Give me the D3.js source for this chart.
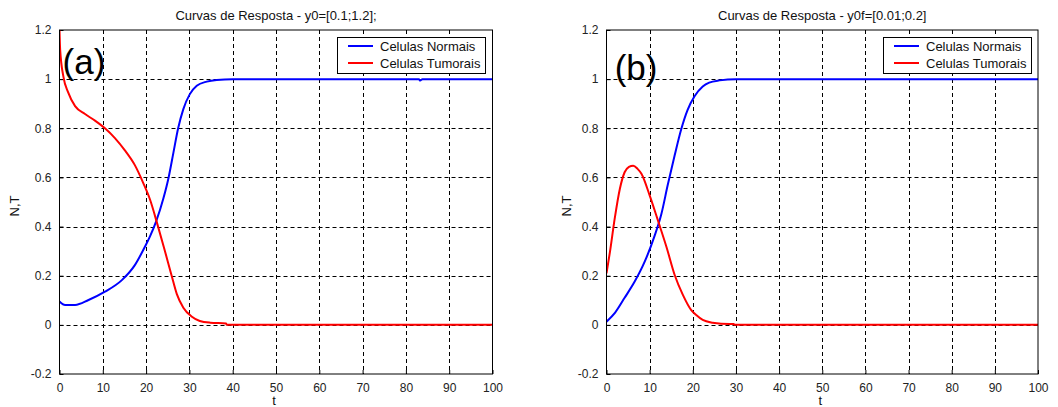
<!DOCTYPE html>
<html>
<head>
<meta charset="utf-8">
<script src="https://cdn.jsdelivr.net/npm/d3@7"></script>
<style>
html,body{margin:0;padding:0;background:#fff;}
svg{display:block;font-family:"Liberation Sans",Arial,Helvetica,sans-serif;}
</style>
</head>
<body>
<svg id="chart" width="1058" height="407"></svg>
<script>
// ---- data ----
const xTicks = [0,10,20,30,40,50,60,70,80,90,100];
const yTicks = [-0.2,0,0.2,0.4,0.6,0.8,1,1.2];
const yTickLabels = ["-0.2","0","0.2","0.4","0.6","0.8","1","1.2"];
const seriesNames = ["Celulas Normais","Celulas Tumorais"];
const seriesColors = ["#0000ff","#ff0000"];
const titles = ["Curvas de Resposta - y0=[0.1;1.2];","Curvas de Resposta - y0f=[0.01;0.2]"];
const panelLabels = ["(a)","(b)"];

const tNormalA = [0,1.3,3.6,6.7,10.5,14.4,17.4,19.7,20.9,22.3,24.0,25.2,26.3,27.4,28.6,30.1,31.7,34.0,36.3,40,83,83.3,83.8,100];
const normalA  = [0.095,0.081,0.081,0.101,0.135,0.182,0.243,0.317,0.36,0.42,0.515,0.6,0.7,0.8,0.878,0.939,0.973,0.990,0.997,1.0,1.0,0.994,1.0,1.0];
const tTumorA  = [0,0.15,0.9,2.0,3.6,5.9,8.2,10.5,12.8,15.1,17.4,19.4,20.9,22.6,24.2,25.9,27.1,28.6,30.5,32.4,34.8,38.5,38.6,100];
const tumorA   = [1.2,1.12,1.01,0.946,0.89,0.858,0.831,0.8,0.76,0.71,0.65,0.575,0.51,0.41,0.31,0.2,0.125,0.07,0.034,0.016,0.009,0.006,0,0];

const tNormalB = [0,2,4.2,6.5,8.8,11.1,12.7,14.2,15.8,17.3,18.8,20.4,22.3,23.8,26.2,30,100];
const normalB  = [0.013,0.05,0.11,0.175,0.255,0.36,0.45,0.57,0.69,0.795,0.875,0.93,0.97,0.986,0.995,1.0,1.0];
const tTumorB  = [0,0.8,1.9,3.1,4.2,5.2,6.2,7.2,8.1,10.0,11.9,13.9,15.8,17.7,19.6,20.8,22.3,24.6,28.5,29.5,29.6,100];
const tumorB   = [0.21,0.297,0.432,0.554,0.621,0.643,0.648,0.635,0.615,0.527,0.426,0.317,0.203,0.122,0.061,0.04,0.02,0.009,0.003,0.003,0,0];

// ---- layout ----
const panels = [
  {left:59.5, right:492.5, top:30, bottom:374, label:{t:0.7,y:1.02}, yLabelX:15,
   legend:{x:337,y:37.5,w:148,h:36},
   series:[[tNormalA,normalA],[tTumorA,tumorA]]},
  {left:606.5, right:1038, top:30, bottom:374, label:{t:1.9,y:0.995}, yLabelX:567,
   legend:{x:883,y:37.5,w:148,h:36},
   series:[[tNormalB,normalB],[tTumorB,tumorB]]}
];

const svg = d3.select("#chart");

panels.forEach((p,i)=>{
  const x = d3.scaleLinear().domain([0,100]).range([p.left,p.right]);
  const y = d3.scaleLinear().domain([-0.2,1.2]).range([p.bottom,p.top]);
  const g = svg.append("g");

  const clipId = "clip"+i;
  g.append("clipPath").attr("id",clipId).append("rect")
    .attr("x",p.left).attr("y",p.top-1).attr("width",p.right-p.left+1).attr("height",p.bottom-p.top+2);

  // grid
  g.append("g").selectAll("line").data(xTicks.slice(1,-1)).join("line")
    .attr("x1",d=>Math.round(x(d))+0.5).attr("x2",d=>Math.round(x(d))+0.5)
    .attr("y1",p.top).attr("y2",p.bottom)
    .attr("stroke","#000").attr("stroke-width",1).attr("stroke-dasharray","4,3");
  g.append("g").selectAll("line").data(yTicks.slice(1,-1)).join("line")
    .attr("y1",d=>Math.round(y(d))+0.5).attr("y2",d=>Math.round(y(d))+0.5)
    .attr("x1",p.left).attr("x2",p.right)
    .attr("stroke","#000").attr("stroke-width",1).attr("stroke-dasharray","4,3");

  // axes (ticks inward)
  const xAxis = d3.axisBottom(x).tickValues(xTicks).tickSize(-4).tickPadding(9).tickFormat(d3.format("d"));
  const yAxis = d3.axisLeft(y).tickValues(yTicks).tickSize(-4).tickPadding(8)
    .tickFormat((d,k)=>yTickLabels[k]);
  const gx = g.append("g").attr("transform",`translate(0,${p.bottom})`).call(xAxis);
  const gy = g.append("g").attr("transform",`translate(${p.left},0)`).call(yAxis);
  [gx,gy].forEach(a=>{
    a.select(".domain").remove();
    a.selectAll("line").attr("stroke","#000");
    a.selectAll("text").attr("fill","#222").style("font-size","12px")
      .style("font-family","'Liberation Sans',Arial,sans-serif");
  });

  // lines
  const line = d3.line().x(d=>x(d[0])).y(d=>y(d[1])).curve(d3.curveMonotoneX);
  p.series.forEach((s,k)=>{
    const pts = s[0].map((t,j)=>[t,s[1][j]]);
    g.append("path").datum(pts).attr("d",line)
      .attr("fill","none").attr("stroke",seriesColors[k]).attr("stroke-width",2)
      .attr("clip-path",`url(#${clipId})`);
  });

  // box
  g.append("rect").attr("x",p.left).attr("y",p.top)
    .attr("width",p.right-p.left).attr("height",p.bottom-p.top)
    .attr("fill","none").attr("stroke","#000").attr("stroke-width",1);

  // title
  g.append("text").attr("x",(p.left+p.right)/2).attr("y",20)
    .attr("text-anchor","middle").style("font-size","13px").attr("fill","#111")
    .text(titles[i]);

  // axis labels
  g.append("text").attr("x",(p.left+p.right)/2 - 2).attr("y",405)
    .attr("text-anchor","middle").style("font-size","13px").attr("fill","#111").text("t");
  g.append("text").attr("transform",`translate(${p.yLabelX+4},${(p.top+p.bottom)/2+4}) rotate(-90)`)
    .attr("text-anchor","middle").style("font-size","13px").attr("fill","#111").text("N,T");

  // panel label
  g.append("text").attr("x",x(p.label.t)).attr("y",y(p.label.y))
    .style("font-size","35px").attr("fill","#000").text(panelLabels[i]);

  // legend
  const L = p.legend;
  const lg = g.append("g");
  lg.append("rect").attr("x",L.x+0.5).attr("y",L.y).attr("width",L.w).attr("height",L.h)
    .attr("fill","#fff").attr("stroke","#000").attr("stroke-width",1);
  seriesNames.forEach((nm,k)=>{
    const yy = L.y + 8.5 + k*17;
    lg.append("line").attr("x1",L.x+11).attr("x2",L.x+36).attr("y1",yy).attr("y2",yy)
      .attr("stroke",seriesColors[k]).attr("stroke-width",2);
    lg.append("text").attr("x",L.x+43).attr("y",yy+4.5).style("font-size","13px")
      .attr("fill","#111").text(nm);
  });
});
</script>
</body>
</html>
